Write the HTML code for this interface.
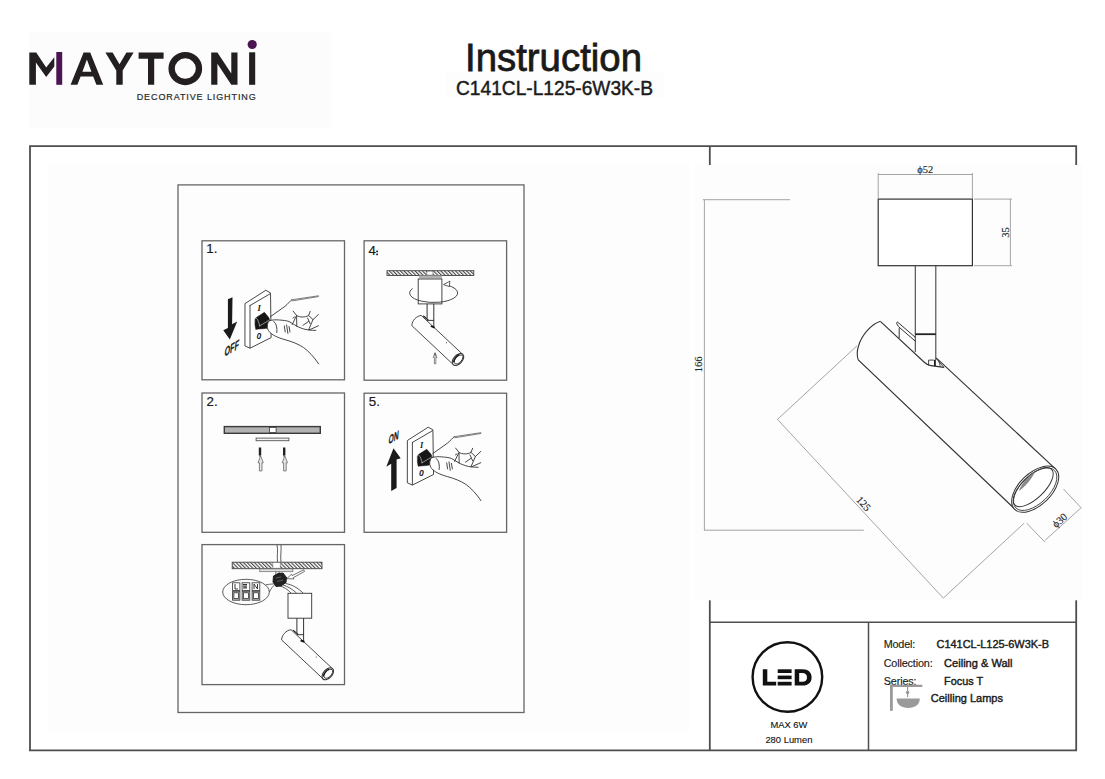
<!DOCTYPE html>
<html><head><meta charset="utf-8">
<style>
html,body{margin:0;padding:0;background:#fff;}
body{width:1105px;height:779px;overflow:hidden;position:relative;font-family:"Liberation Sans",sans-serif;}
svg{position:absolute;left:0;top:0;}
</style></head>
<body>
<svg width="1105" height="779" viewBox="0 0 1105 779">
<defs>
<pattern id="hatch" patternUnits="userSpaceOnUse" width="2.6" height="2.6" patternTransform="rotate(-45)">
<rect width="2.6" height="2.6" fill="#fff"/><rect width="1.1" height="2.6" fill="#444"/>
</pattern>
</defs>
<!-- subtle image backgrounds -->
<rect x="29.7" y="31.7" width="302" height="95.8" fill="#fcfcfc"/>
<rect x="445.4" y="72.4" width="218.3" height="25" fill="#fdfdfd"/>
<rect x="48" y="164" width="642" height="567.6" fill="#fdfdfd"/>
<rect x="695" y="164" width="388" height="436" fill="#fdfdfd"/>

<!-- LOGO -->
<g id="logo" fill="#231f20">
<path d="M29.3,84.8 V52.4 H36.2 L46.2,67.4 L54.3,57.2 V66.6 L46.2,77 L35.9,62.5 V84.8 Z"/>
<rect x="56.3" y="52" width="5.9" height="32.8" fill="#4a1550"/>
<path fill-rule="evenodd" d="M70.6,84.8 L83.6,52.4 H90.2 L103.2,84.8 H96.4 L93.2,76.4 H80.6 L77.4,84.8 Z M82.4,71.8 H91.4 L86.9,59.6 Z"/>
<path d="M105.4,52.4 H112.6 L119.5,64.2 L126.4,52.4 H133.6 L122.7,70.4 V84.8 H116.3 V70.4 Z"/>
<path d="M138.6,52.6 H163.6 V58.8 H154.2 V84.8 H148 V58.8 H138.6 Z"/>
<ellipse cx="185.3" cy="68.6" rx="13.7" ry="13.4" fill="none" stroke="#231f20" stroke-width="6.3"/>
<path d="M211.2,84.8 V52.4 H217.4 L231.3,73.5 V52.4 H237.5 V84.8 H231.3 L217.4,63.7 V84.8 Z"/>
<rect x="249.1" y="52.3" width="6.1" height="32.5"/>
<circle cx="252.2" cy="44.5" r="4.6" fill="#4a1550"/>
</g>
<text x="136.7" y="99.8" font-family="Liberation Sans" font-size="9" fill="#2a2a2a" stroke="#2a2a2a" stroke-width="0.2" textLength="119" lengthAdjust="spacing">DECORATIVE LIGHTING</text>

<!-- TITLE -->
<text x="465" y="70.6" font-family="Liberation Sans" font-size="39" fill="#1a1a1a" stroke="#1a1a1a" stroke-width="0.8" textLength="177" lengthAdjust="spacingAndGlyphs">Instruction</text>
<text x="456" y="95.2" font-family="Liberation Sans" font-size="21" fill="#1a1a1a" stroke="#1a1a1a" stroke-width="0.45" textLength="197" lengthAdjust="spacingAndGlyphs">C141CL-L125-6W3K-B</text>

<!-- OUTER FRAME -->
<g stroke="#4e4e4e" stroke-width="1.8" fill="none">
<path d="M30,750.3 V146.2 H1076.2 V165"/>
<path d="M29,750.3 H1077"/>
<path d="M1076.2,600.3 V750.3"/>
<path d="M709.8,146.2 V165"/>
<path d="M709.8,600.3 V750.3"/>
<path d="M868.5,622.2 V750.3" stroke-width="1.5"/>
<path d="M709.8,622.2 H1076.2" stroke-width="1.5"/>
</g>

<!-- INNER BOX & STEP BOXES -->
<g stroke="#666" stroke-width="1.3" fill="none">
<rect x="178" y="184.9" width="346" height="527.6"/>
<rect x="202" y="240.8" width="142.5" height="139"/>
<rect x="364.1" y="240.8" width="142.5" height="139.4"/>
<rect x="202" y="393" width="142.5" height="139.3"/>
<rect x="364.1" y="393.2" width="142.5" height="139.1"/>
<rect x="202" y="544.6" width="142.5" height="140"/>
</g>
<g font-family="Liberation Sans" font-size="13.3" fill="#1a1a1a" stroke="#1a1a1a" stroke-width="0.2">
<text x="206.3" y="253.4">1.</text>
<text x="368.6" y="254.6">4</text>
<text x="206.6" y="406.4">2.</text>
<text x="368.8" y="406.4">5.</text>
</g>
<rect x="376.2" y="250.6" width="1.8" height="1.6" fill="#222"/><rect x="376.2" y="253.6" width="1.8" height="1.6" fill="#222"/>

<!-- SWITCH + HAND (box1 coords) -->
<g id="sw" fill="none" stroke="#333" stroke-width="0.9" stroke-linejoin="round" stroke-linecap="round">
<path d="M245.3,303.4 L265.8,290.3 L270.5,292.9 L271.1,337.6 L250,348.2 L245.3,346.1 Z" fill="#fff"/>
<path d="M250,305.5 L269.8,294 M250,305.5 V347.8"/>
<path d="M255.2,319 L256.4,317.4 L264.4,312.3 L268.6,317.3 L270.6,321.5 L267,328.2 L263.5,328.7 L258.4,329 L255.8,329.4 L255,325 Z" fill="#161616" stroke="#161616" stroke-width="0.5"/>
<path d="M259.6,325.9 L269.8,319.8 M256.4,318.2 C258,319.5 259,322.5 259.6,325.9" stroke="#e0e0e0" stroke-width="0.6"/>
<text x="257.6" y="311" font-family="Liberation Serif" font-weight="bold" font-style="italic" font-size="8.5" fill="#222" stroke="none">I</text>
<text x="256.6" y="338.8" font-family="Liberation Sans" font-weight="bold" font-style="italic" font-size="8.6" fill="#222" stroke="none">0</text>
<!-- hand -->
<path d="M270.5,316.6 L285,306.3 C288,304 290,301 291.7,299.8"/><path d="M291.7,299.8 L318.4,295.8 M292.2,300.9 L318.4,296.6" stroke="#555" stroke-width="0.75"/>
<path d="M269.1,320.8 C274,319.7 279,319.8 282,320.6 L281,336 C277,336 272,334.5 269.3,331.7 C266.5,328.5 266.8,323.5 269.1,320.8 Z" fill="#fff" stroke="none"/>
<path d="M269.1,320.8 C272,319.8 276,319.6 279.5,320 C283,320.3 286,320.5 289,321.5 C292,323 295,325.5 298,326.8 C302,328.5 305,329.6 308.6,329.9 C311,330.3 313.5,330.4 315.8,330.4"/>
<path d="M269.1,320.8 C266.8,323.5 266.5,328.5 269.3,331.7 C272,335 277.5,337.6 285,339.7 C292,341.7 298,343.8 303.5,347.5 C309,351.5 314,357 318.6,363.8"/>
<path d="M273.8,321.5 C276.5,323.5 277.4,328 276.8,332.6"/>
<path d="M284.3,326 L285.2,332 M286.6,325 L287.9,333.5 M289,326.5 L290,332"/>
<path d="M293.2,311.2 L296.6,315.5 C300,317.5 305,317.5 308.6,315.5 L310.2,311.4 M296.6,315.5 L292.2,324.5 M296.6,316.5 L296.8,326.3 M308.6,315.5 L313,319.6 L318.4,314.5 M313,319.6 L308.6,329.9 M307.6,318 L310.2,323.8 M303,325.3 L308.5,321.5 M309.5,329.8 L318.4,325.8 M294.5,317 L293,318"/>
</g>
<use href="#sw" transform="translate(162.4,136.9)"/>
<!-- OFF arrow -->
<path d="M227.9,299.2 L232.5,297.2 L232.1,324.2 L237.2,321.4 L229.8,339.4 L223.3,330.2 L227.9,327.9 Z" fill="#1a1a1a"/>
<text transform="translate(224.3,356.8) skewY(-30) skewX(-6)" font-family="Liberation Sans" font-weight="bold" font-size="12.5" stroke="#1a1a1a" stroke-width="0.25" fill="#1a1a1a" textLength="14.2" lengthAdjust="spacingAndGlyphs">OFF</text>
<!-- ON arrow -->
<path d="M393.5,448.2 L400.7,458.3 L396.6,459.6 L396.6,487.9 L391.2,491.1 L391.2,463.7 L386.3,466.8 Z" fill="#1a1a1a"/>
<text transform="translate(388.3,444.6) skewY(-30) skewX(-6)" font-family="Liberation Sans" font-weight="bold" font-size="11.8" stroke="#1a1a1a" stroke-width="0.25" fill="#1a1a1a" textLength="10" lengthAdjust="spacingAndGlyphs">ON</text>

<!-- BOX 4 -->
<g fill="none" stroke="#333" stroke-width="0.9">
<rect x="387" y="270.7" width="86.8" height="4.8" fill="url(#hatch)" stroke="#444"/>
<rect x="426.9" y="271.1" width="6.1" height="4" fill="#fff" stroke="#555" stroke-width="0.6"/>
<rect x="418.9" y="275.5" width="23" height="2.9" fill="#b0b0b0" stroke="none"/>
</g>
<g id="lamp" fill="none" stroke="#333" stroke-width="0.9">
<rect x="418.2" y="279" width="23.7" height="24.9" fill="#fff"/>
<path d="M427.1,303.9 V318.5 M433.8,303.9 V327" stroke-width="1"/>
<path d="M421.2,315.4 C416.5,316 412,320.5 411.8,325.6 L453.3,364.6 M421.2,315.4 L462.7,354.4" fill="none"/>
<path d="M423.2,315.8 L428.4,320.2" stroke="#222" stroke-width="1.2"/>
<path d="M427.1,320.4 L433.8,320.4" stroke="#222" stroke-width="0.9"/>
<path d="M430.8,326 L434.6,327.6" stroke="#111" stroke-width="1.8"/>
<g transform="translate(458,359.5) rotate(-47.3)">
<ellipse rx="7.1" ry="4.3" fill="#fff" stroke-width="1.1"/>
<ellipse cx="0.4" cy="0.4" rx="5.5" ry="3" stroke-width="0.9"/>
<path d="M-5,-1.5 C-3,-3.2 2,-3.5 4.5,-2.2" stroke="#111" stroke-width="1.3"/>
</g>
<circle cx="446.5" cy="342.7" r="0.6" fill="#555" stroke="none"/>
</g>
<path d="M412.6,288.4 A24,9.5 0 1 0 447.8,285.3" fill="none" stroke="#333" stroke-width="0.9"/>
<path d="M443.5,284.6 L449.8,281.2 L449.3,286.6 Z" fill="#fff" stroke="#333" stroke-width="0.8"/>
<path d="M434.4,363.8 V357.5 H433.2 L435.1,352.6 L437,357.5 H435.8 V363.8 Z" fill="#fff" stroke="#555" stroke-width="0.7"/>
<path d="M435.1,353.5 V356.5" stroke="#222" stroke-width="0.8"/>

<!-- BOX 2 -->
<g fill="none" stroke="#333" stroke-width="0.9">
<rect x="224.3" y="426.6" width="96" height="6.7" fill="#b2b2b2" stroke="#3a3a3a" stroke-width="1.4"/>
<rect x="269.4" y="427.5" width="6.7" height="4.9" fill="#fff" stroke="#3a3a3a" stroke-width="0.8"/>
<rect x="256.1" y="438.1" width="32.8" height="2.6" fill="#f4f4f4" stroke="#555" stroke-width="0.9"/>
<path d="M260,447.4 V455.6 M284.2,447.4 V455.6" stroke="#222" stroke-width="2.4"/>
<path d="M259.2,456 L260.6,456 M283.4,456 L284.8,456" stroke="#222" stroke-width="1"/>
<path d="M259.4,470.9 V462.8 H258 L260.6,455.8 L263.3,462.8 H262 V470.9 Z M283.6,470.9 V462.8 H282.2 L284.8,455.8 L287.5,462.8 H286.2 V470.9 Z" stroke="#666" stroke-width="0.8" fill="#e4e4e4"/>
</g>

<!-- BOX 3 -->
<use href="#lamp" transform="translate(-130.2,314.3)"/>
<g fill="none" stroke="#333" stroke-width="0.9">
<path d="M277,545 C278.5,551 276.5,556 277.6,562.4 M281,545 C281.5,551 280.2,556 281,562.4" stroke-width="0.8"/>
<rect x="232.2" y="562.2" width="89.8" height="6.5" fill="url(#hatch)" stroke="#444"/>
<rect x="272.9" y="562.6" width="7.3" height="5.6" fill="#fff" stroke="#777" stroke-width="0.6"/>
<rect x="259.8" y="568.9" width="33" height="2.8" fill="#e2e2e2" stroke="#666" stroke-width="0.7"/>
<path d="M276,571.5 C275.5,575 276,578 277,580 M279,571.5 C279.5,575 280,577 280.5,579" stroke-width="0.7"/>
<path d="M273.5,576 L278,573.5 L283,573 L286.5,577.5 L286,582.5 L281,586 L276,586.5 L273,582 Z" fill="#222" stroke="#111"/>
<path d="M276,578 L281,577 M277,581.5 L283,580" stroke="#888" stroke-width="0.6"/>
<path d="M286.8,578.6 L291.5,574.2 L292.2,575.6 L303.6,569.8 L304.6,571.4 L293.4,577.6 L294,579 Z" fill="#fff" stroke-width="0.7"/>
<path d="M279,585.7 C284,587 287,589 291,593 M283,585 C288,586.5 292,589 296.5,593 M285.5,583.5 C292,584.5 298,588 303,593" stroke-width="0.8"/>
<ellipse cx="246" cy="592" rx="23.3" ry="12.7" stroke-width="0.8"/>
<path d="M265.7,584.8 C268,584.5 271,584 273.8,583.9 M269.3,592 C271,589 272.5,586.5 274.7,584.8" stroke-width="0.7"/>
<g stroke-width="0.8" stroke="#333">
<rect x="232.6" y="582.8" width="7.3" height="7.6" fill="#fff"/><rect x="242.1" y="582.8" width="7.7" height="7.6" fill="#fff"/><rect x="252.1" y="582.8" width="7.7" height="7.6" fill="#fff"/>
<rect x="232.6" y="591.2" width="7.3" height="9" fill="#bbb"/><rect x="242.1" y="591.2" width="7.7" height="9" fill="#bbb"/><rect x="252.1" y="591.2" width="7.7" height="9" fill="#bbb"/>
<rect x="233.9" y="592.8" width="4.7" height="5.8" fill="#fff"/><rect x="243.5" y="592.8" width="4.9" height="5.8" fill="#fff"/><rect x="253.5" y="592.8" width="4.9" height="5.8" fill="#fff"/>
</g>
<path d="M235,584 V589 H238 M244,584.5 V589 M246,584.5 V589 M243,584.5 H247 M243.6,587 H246.8 M254,589 V584 L257.5,589 V584" stroke="#222" stroke-width="0.9"/>
</g>

<!-- PRODUCT DRAWING -->
<g id="product" fill="none">
<!-- dimension lines -->
<g stroke="#9a9a9a" stroke-width="0.9">
<path d="M878.2,173 V198 M972.4,173 V198 M878.2,174.5 H972.4"/>
<path d="M974,199.1 H1012 M974,265.7 H1012 M1010.4,199.1 V265.7"/>
<path d="M702.8,199.7 H790 M704.4,199.7 V530.2 M704,530.2 H863.8"/>
<path d="M777.5,419.4 L943.3,598.1 M777.5,419.4 L857,345.8 M943.3,598.1 L1024.2,523.1"/>
<path d="M1045,540.4 L1080.8,508.1 M1026.6,523.1 L1045,542.2 M1063.5,489 L1081.4,508.1"/>
</g>
<g font-family="Liberation Serif" font-size="10.5" fill="#222" stroke="#222" stroke-width="0.15">
<text x="925.3" y="172.8" text-anchor="middle">ϕ52</text>
<text transform="translate(1008.5,232.4) rotate(-90)" text-anchor="middle">35</text>
<text transform="translate(702.2,364.4) rotate(-90)" text-anchor="middle">166</text>
<text transform="translate(861,506) rotate(47)" text-anchor="middle">125</text>
<text transform="translate(1062,523) rotate(-42)" text-anchor="middle">ϕ30</text>
</g>
<!-- mount box -->
<rect x="878.2" y="199.1" width="94.2" height="66.6" stroke="#333" stroke-width="1.2" fill="#fff"/>
<!-- stem -->
<path d="M915.3,265.7 V352 M935.8,265.7 V360" stroke="#444" stroke-width="1.1"/>
<path d="M915.3,334.2 H935.8" stroke="#222" stroke-width="1.8"/>
<!-- tube -->
<g stroke="#333" stroke-width="1.1">
<path d="M880.4,321.3 C872,324 862,334 858.5,346 C856.6,352 857.2,357 858.3,359.9 L1015.3,509.5"/>
<path d="M880.4,321.3 L924,362 Q927,365 931,365.6 L944,367.4"/>
<path d="M936.2,357.8 L1055.7,469.1"/>
<!-- bracket -->
<path d="M897.3,321.9 L915.3,337.3 M898.5,326.6 L915.3,341.2 M897.3,321.9 L896.6,323.5 L898.5,326.6 M899.2,328.1 V338.1" stroke-width="1"/>
<path d="M928.6,365.5 V360.1 H933.9 M934.8,359.8 V366.2" stroke-width="0.9"/>
<path d="M934.9,360 V366" stroke="#111" stroke-width="1.6"/>
<path d="M936.2,358.6 L943.9,367.4 M938.5,360.5 L940.5,366.8" stroke-width="0.8"/>
</g>
<!-- end ellipses -->
<g transform="translate(1035.2,489.2) rotate(-44)" stroke="#333" fill="none">
<ellipse rx="28.8" ry="16" stroke-width="1" fill="#fff"/>
<ellipse rx="26.9" ry="14.1" stroke-width="0.85"/>
<ellipse cy="-2.9" rx="25.6" ry="11.2" stroke-width="0.95"/>
<path d="M-12,-10.2 C-5,-13.4 5,-14 11.5,-12.8 C5,-10.4 -4,-9 -12,-10.2 Z" fill="#8a8a8a" stroke="#666" stroke-width="0.5"/>
</g>
</g>

<!-- TABLE -->
<circle cx="787.4" cy="677" r="34.8" fill="none" stroke="#111" stroke-width="2.4"/>
<g fill="#111">
<path d="M762.8,669.3 H767.3 V681.7 H776.2 V685.5 H762.8 Z"/>
<rect x="777.7" y="669.3" width="13.9" height="3.7"/>
<rect x="777.7" y="675.6" width="13.9" height="3.6"/>
<rect x="777.7" y="681.8" width="13.9" height="3.7"/>
<path fill-rule="evenodd" d="M794.7,669.3 H802.5 C808.5,669.3 811.6,672.6 811.6,677.4 C811.6,682.2 808.5,685.5 802.5,685.5 H794.7 Z M799.2,673.1 V681.7 H802.2 C805.4,681.7 807,680 807,677.4 C807,674.8 805.4,673.1 802.2,673.1 Z"/>
</g>
<g font-family="Liberation Sans" font-size="9.7" fill="#111" stroke="#111" stroke-width="0.12">
<text x="770.4" y="728" textLength="37" lengthAdjust="spacingAndGlyphs">MAX 6W</text>
<text x="765.4" y="743.4" textLength="47" lengthAdjust="spacingAndGlyphs">280 Lumen</text>
</g>
<g font-family="Liberation Sans" font-size="10.8" fill="#1a1a1a" stroke="#1a1a1a" stroke-width="0.15">
<text x="883.7" y="647.6" textLength="31.5">Model:</text>
<text x="883.7" y="666.6" textLength="49">Collection:</text>
<text x="883.7" y="685.2" textLength="32.9">Series:</text>
</g>
<g font-family="Liberation Sans" font-size="10.8" fill="#1a1a1a" stroke="#1a1a1a" stroke-width="0.4">
<text x="936.5" y="647.6" textLength="112.5" lengthAdjust="spacingAndGlyphs">C141CL-L125-6W3K-B</text>
<text x="944.1" y="666.6" textLength="68.4" lengthAdjust="spacingAndGlyphs">Ceiling &amp; Wall</text>
<text x="944.1" y="685.2" textLength="39" lengthAdjust="spacingAndGlyphs">Focus T</text>
<text x="930.8" y="701.8" textLength="72.2" lengthAdjust="spacingAndGlyphs">Ceilling Lamps</text>
</g>
<!-- ceiling lamp icon -->
<g fill="#9a9a9a">
<rect x="890" y="684.7" width="2.8" height="26.1"/>
<rect x="890" y="684.7" width="32.3" height="2.3"/>
<rect x="907" y="687" width="1.2" height="4"/>
<circle cx="907.6" cy="692.5" r="1.8"/>
<rect x="907" y="694" width="1.2" height="3"/>
<path d="M896.6,698.4 H919.8 C919.8,704.5 915,707.9 908.2,707.9 C901.4,707.9 896.6,704.5 896.6,698.4 Z"/>
</g>

</svg>
</body></html>
